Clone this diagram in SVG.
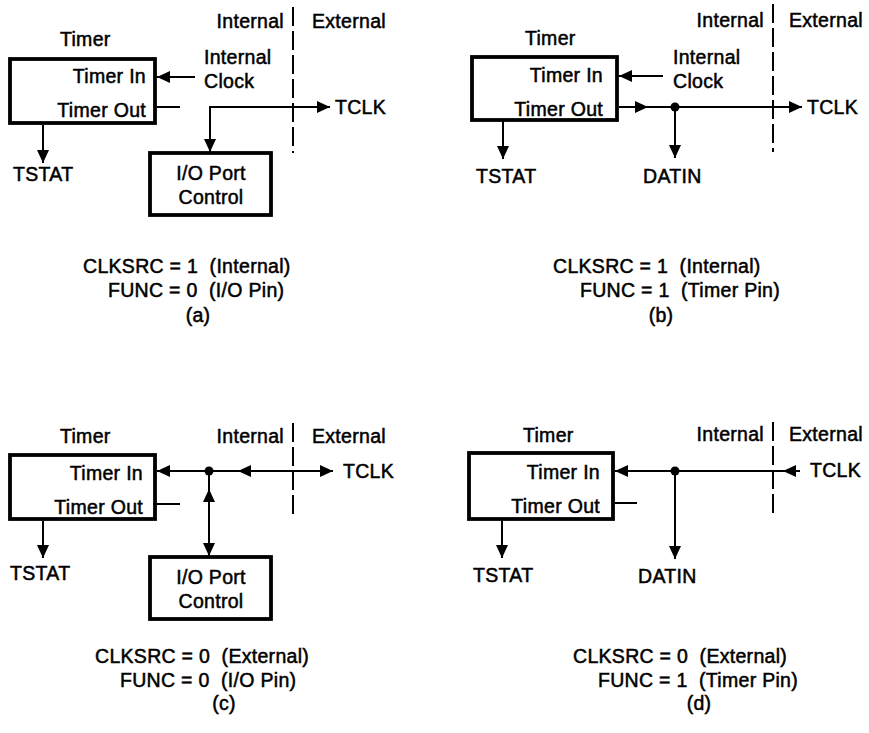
<svg xmlns="http://www.w3.org/2000/svg" width="869" height="733" viewBox="0 0 869 733">
<defs>
<style>
text{font-family:"Liberation Sans",Arial,Helvetica,sans-serif;font-size:19.5px;letter-spacing:0.3px;fill:#000;stroke:#000;stroke-width:0.5px}
.e{text-anchor:end}
.m{text-anchor:middle}
.box{fill:none;stroke:#000;stroke-width:3.8}
.ln{fill:none;stroke:#000;stroke-width:2}
.ar{fill:none;stroke:#000;stroke-width:2;marker-end:url(#ah)}
.dash{fill:none;stroke:#000;stroke-width:2;stroke-dasharray:19 5}
.dot{fill:#000}
</style>
<marker id="ah" viewBox="0 0 13 12" markerWidth="13" markerHeight="12" refX="13" refY="6" orient="auto" markerUnits="userSpaceOnUse"><path d="M0,0 L13,6 L0,12 z" fill="#000"/></marker>
</defs>
<rect width="869" height="733" fill="#fff"/>

<!-- Panel (a) -->
<g id="panel-a">
  <g id="a-boundary">
    <text class="e" x="284" y="28">Internal</text>
    <text x="312" y="28">External</text>
    <line class="dash" x1="293" y1="7" x2="293" y2="153"/>
  </g>
  <g id="a-timer">
    <text x="60" y="46">Timer</text>
    <rect class="box" x="10" y="59" width="145" height="64"/>
    <text class="e" x="146" y="83">Timer In</text>
    <text class="e" x="146" y="117">Timer Out</text>
  </g>
  <g id="a-clock"><text x="204" y="64">Internal</text><text x="204" y="88">Clock</text></g>
  <g id="a-tstat"><text x="13" y="181">TSTAT</text></g>
  <g id="a-tclk"><text x="335" y="114">TCLK</text></g>
  <g id="a-io">
    <rect class="box" x="150" y="153" width="121" height="62"/>
    <text class="m" x="211" y="180">I/O Port</text>
    <text class="m" x="211" y="204">Control</text>
  </g>
  <g id="a-connectors">
    <line class="ar" x1="195" y1="77" x2="157" y2="77"/>
    <line class="ln" x1="157" y1="107" x2="180" y2="107"/>
    <line class="ar" x1="43" y1="125" x2="43" y2="163"/>
    <line class="ar" x1="209" y1="107" x2="330" y2="107"/>
    <line class="ar" x1="210" y1="106" x2="210" y2="152"/>
  </g>
  <g id="a-caption">
    <text x="83" y="273" xml:space="preserve">CLKSRC = 1  (Internal)</text>
    <text x="108" y="297" xml:space="preserve">FUNC = 0  (I/O Pin)</text>
    <text class="m" x="198" y="322">(a)</text>
  </g>
</g>

<!-- Panel (b) -->
<g id="panel-b">
  <g id="b-boundary">
    <text class="e" x="764" y="27">Internal</text>
    <text x="789" y="27">External</text>
    <line class="dash" x1="773" y1="4" x2="773" y2="152"/>
  </g>
  <g id="b-timer">
    <text x="525" y="45">Timer</text>
    <rect class="box" x="472" y="57" width="145" height="63"/>
    <text class="e" x="603" y="82">Timer In</text>
    <text class="e" x="603" y="116">Timer Out</text>
  </g>
  <g id="b-clock"><text x="673" y="64">Internal</text><text x="673" y="88">Clock</text></g>
  <g id="b-tstat"><text x="476" y="183">TSTAT</text></g>
  <g id="b-datin"><text x="643" y="183">DATIN</text></g>
  <g id="b-tclk"><text x="807" y="114">TCLK</text></g>
  <g id="b-junction"><circle class="dot" cx="675" cy="107" r="4.5"/></g>
  <g id="b-connectors">
    <line class="ar" x1="663" y1="76" x2="619" y2="76"/>
    <line class="ar" x1="619" y1="107" x2="648" y2="107"/>
    <line class="ar" x1="646" y1="107" x2="802" y2="107"/>
    <line class="ar" x1="675" y1="107" x2="675" y2="158"/>
    <line class="ar" x1="503" y1="121" x2="503" y2="159"/>
  </g>
  <g id="b-caption">
    <text x="553" y="273" xml:space="preserve">CLKSRC = 1  (Internal)</text>
    <text x="580" y="297" xml:space="preserve">FUNC = 1  (Timer Pin)</text>
    <text class="m" x="661" y="322">(b)</text>
  </g>
</g>

<!-- Panel (c) -->
<g id="panel-c">
  <g id="c-boundary">
    <text class="e" x="284" y="443">Internal</text>
    <text x="312" y="443">External</text>
    <line class="dash" x1="293" y1="423" x2="293" y2="519"/>
  </g>
  <g id="c-timer">
    <text x="60" y="443">Timer</text>
    <rect class="box" x="10" y="455" width="145" height="64"/>
    <text class="e" x="143" y="480">Timer In</text>
    <text class="e" x="143" y="514">Timer Out</text>
  </g>
  <g id="c-tstat"><text x="10" y="580">TSTAT</text></g>
  <g id="c-tclk"><text x="343" y="478">TCLK</text></g>
  <g id="c-junction"><circle class="dot" cx="209" cy="471" r="4.5"/></g>
  <g id="c-io">
    <rect class="box" x="150" y="557" width="121" height="62"/>
    <text class="m" x="211" y="584">I/O Port</text>
    <text class="m" x="211" y="608">Control</text>
  </g>
  <g id="c-connectors">
    <line class="ar" x1="209" y1="471" x2="157" y2="471"/>
    <line class="ar" x1="209" y1="471" x2="333" y2="471"/>
    <line class="ar" x1="260" y1="471" x2="238" y2="471"/>
    <line class="ar" x1="209" y1="471" x2="209" y2="556"/>
    <line class="ar" x1="209" y1="510" x2="209" y2="489"/>
    <line class="ln" x1="157" y1="504" x2="180" y2="504"/>
    <line class="ar" x1="43" y1="521" x2="43" y2="558"/>
  </g>
  <g id="c-caption">
    <text x="95" y="663" xml:space="preserve">CLKSRC = 0  (External)</text>
    <text x="120" y="687" xml:space="preserve">FUNC = 0  (I/O Pin)</text>
    <text class="m" x="224" y="710">(c)</text>
  </g>
</g>

<!-- Panel (d) -->
<g id="panel-d">
  <g id="d-boundary">
    <text class="e" x="764" y="441">Internal</text>
    <text x="789" y="441">External</text>
    <line class="dash" x1="773" y1="422" x2="773" y2="517"/>
  </g>
  <g id="d-timer">
    <text x="523" y="442">Timer</text>
    <rect class="box" x="469" y="453" width="144" height="66"/>
    <text class="e" x="600" y="479">Timer In</text>
    <text class="e" x="600" y="513">Timer Out</text>
  </g>
  <g id="d-tstat"><text x="473" y="582">TSTAT</text></g>
  <g id="d-datin"><text x="638" y="583">DATIN</text></g>
  <g id="d-tclk"><text x="810" y="477">TCLK</text></g>
  <g id="d-junction"><circle class="dot" cx="675" cy="471" r="4.5"/></g>
  <g id="d-connectors">
    <line class="ln" x1="800" y1="471" x2="675" y2="471"/>
    <line class="ar" x1="800" y1="471" x2="783" y2="471"/>
    <line class="ar" x1="676" y1="471" x2="615" y2="471"/>
    <line class="ar" x1="675" y1="471" x2="675" y2="559"/>
    <line class="ln" x1="615" y1="503" x2="637" y2="503"/>
    <line class="ar" x1="502" y1="521" x2="502" y2="558"/>
  </g>
  <g id="d-caption">
    <text x="573" y="663" xml:space="preserve">CLKSRC = 0  (External)</text>
    <text x="598" y="687" xml:space="preserve">FUNC = 1  (Timer Pin)</text>
    <text class="m" x="699" y="710">(d)</text>
  </g>
</g>
</svg>
